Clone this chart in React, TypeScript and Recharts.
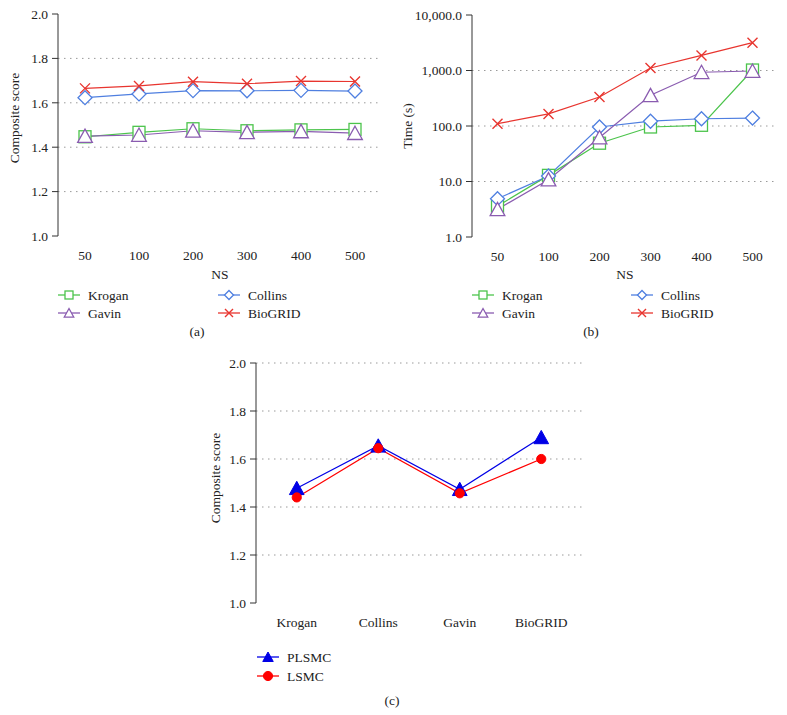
import React from 'react';
import { LineChart, Line, XAxis, YAxis, ReferenceLine } from 'recharts';

// ---------- data ----------
const nsLabels = ['50', '100', '200', '300', '400', '500'];

const scoreKrogan = [1.447, 1.467, 1.483, 1.474, 1.478, 1.48];
const scoreGavin = [1.45, 1.455, 1.474, 1.467, 1.471, 1.463];
const scoreCollins = [1.623, 1.64, 1.655, 1.654, 1.656, 1.653];
const scoreBioGRID = [1.665, 1.676, 1.695, 1.686, 1.698, 1.696];

const timeKrogan = [3.6, 12.9, 49, 96, 103, 1020];
const timeGavin = [3.15, 10.8, 62, 357, 930, 980];
const timeCollins = [4.9, 12.6, 96, 122, 135, 139];
const timeBioGRID = [110, 165, 333, 1110, 1870, 3170];

const networks = ['Krogan', 'Collins', 'Gavin', 'BioGRID'];
const plsmcScores = [1.478, 1.655, 1.474, 1.69];
const lsmcScores = [1.44, 1.645, 1.457, 1.6];

const scoreTicks = [1.0, 1.2, 1.4, 1.6, 1.8, 2.0];
const scoreGridAB = [1.2, 1.4, 1.6, 1.8];
const scoreGridC = [1.2, 1.4, 1.6, 1.8, 2.0];
const timeTicks = [1, 10, 100, 1000, 10000];
const timeGrid = [10, 100, 1000];

// ---------- styling ----------
const FONT = '"Liberation Serif", "Times New Roman", Tinos, serif';
const TXT = '#222';
const AXIS = '#333';
const GRID = '#9a9a9a';
const C_KROGAN = '#4cc44c';
const C_GAVIN = '#8a5cb0';
const C_COLLINS = '#4f7fe0';
const C_BIOGRID = '#e8352f';
const C_PLSMC = '#0000e6';
const C_LSMC = '#ff0000';

type ShapeFn = (cx: number, cy: number, c: string, s: number) => React.ReactElement;

const square: ShapeFn = (cx, cy, c, s) => (
  <rect x={cx - s} y={cy - s} width={2 * s} height={2 * s} fill="#fff" stroke={c} strokeWidth={1.3} />
);
const diamond: ShapeFn = (cx, cy, c, s) => (
  <polygon points={`${cx},${cy - s} ${cx + s},${cy} ${cx},${cy + s} ${cx - s},${cy}`} fill="#fff" stroke={c} strokeWidth={1.3} />
);
const triangle: ShapeFn = (cx, cy, c, s) => (
  <polygon points={`${cx},${cy - s} ${cx + s * 1.05},${cy + s * 0.9} ${cx - s * 1.05},${cy + s * 0.9}`} fill="#fff" stroke={c} strokeWidth={1.3} />
);
const cross: ShapeFn = (cx, cy, c, s) => (
  <path d={`M${cx - s},${cy - s}L${cx + s},${cy + s}M${cx - s},${cy + s}L${cx + s},${cy - s}`} stroke={c} strokeWidth={1.4} fill="none" />
);
const solidTriangle: ShapeFn = (cx, cy, c, s) => (
  <polygon points={`${cx},${cy - s} ${cx + s * 1.05},${cy + s * 0.9} ${cx - s * 1.05},${cy + s * 0.9}`} fill={c} stroke={c} strokeWidth={1} />
);
const solidCircle: ShapeFn = (cx, cy, c, s) => <circle cx={cx} cy={cy} r={s} fill={c} stroke={c} strokeWidth={1} />;

const dotOf = (shape: ShapeFn, color: string, size: number) => (p: any) => {
  const key = `dot-${p.index}`;
  if (p.cx == null || p.cy == null) return <g key={key} />;
  return <g key={key}>{shape(p.cx, p.cy, color, size)}</g>;
};

// ---------- table builders ----------
const dataA = nsLabels.map((ns, i) => ({
  ns,
  Krogan: scoreKrogan[i],
  Gavin: scoreGavin[i],
  Collins: scoreCollins[i],
  BioGRID: scoreBioGRID[i],
}));
const dataB = nsLabels.map((ns, i) => ({
  ns,
  Krogan: timeKrogan[i],
  Gavin: timeGavin[i],
  Collins: timeCollins[i],
  BioGRID: timeBioGRID[i],
}));
const dataC = networks.map((net, i) => ({ net, PLSMC: plsmcScores[i], LSMC: lsmcScores[i] }));

type Series = { name: string; color: string; shape: ShapeFn; size: number; legendSize: number };
const seriesAB: Series[] = [
  { name: 'Krogan', color: C_KROGAN, shape: square, size: 6, legendSize: 4 },
  { name: 'Collins', color: C_COLLINS, shape: diamond, size: 7, legendSize: 4.5 },
  { name: 'Gavin', color: C_GAVIN, shape: triangle, size: 7, legendSize: 4.5 },
  { name: 'BioGRID', color: C_BIOGRID, shape: cross, size: 5, legendSize: 4 },
];
const seriesC: Series[] = [
  { name: 'PLSMC', color: C_PLSMC, shape: solidTriangle, size: 7, legendSize: 5 },
  { name: 'LSMC', color: C_LSMC, shape: solidCircle, size: 4.6, legendSize: 4.6 },
];

const tickStyle = { fontSize: 13.5, fill: TXT, fontFamily: FONT };
const labelStyle = { fontSize: 13.5, fill: TXT, fontFamily: FONT };
const fmt1 = (v: number) => v.toFixed(1);
const fmtTime = (v: number) =>
  v.toLocaleString('en-US', { minimumFractionDigits: 1, maximumFractionDigits: 1 });

// ---------- legend ----------
const LegendBox = ({
  series,
  left,
  top,
  colX,
  rowY,
  cols,
  width,
  height,
}: {
  series: Series[];
  left: number;
  top: number;
  colX: number[];
  rowY: number[];
  cols: number;
  width: number;
  height: number;
}) => (
  <svg style={{ position: 'absolute', left, top }} width={width} height={height}>
    {series.map((s, i) => {
      const x = colX[i % cols];
      const y = rowY[Math.floor(i / cols)];
      return (
        <g key={s.name}>
          <line x1={x} x2={x + 22} y1={y} y2={y} stroke={s.color} strokeWidth={1.3} />
          {s.shape(x + 11, y, s.color, s.legendSize)}
          <text x={x + 30} y={y + 4.5} fontSize={13.5} fill={TXT} style={{ fontFamily: FONT }}>
            {s.name}
          </text>
        </g>
      );
    })}
  </svg>
);

const Caption = ({ text, x, y }: { text: string; x: number; y: number }) => (
  <div
    style={{
      position: 'absolute',
      left: x - 20,
      top: y - 9,
      width: 40,
      textAlign: 'center',
      fontSize: 13.5,
      lineHeight: '18px',
      fontFamily: FONT,
      color: TXT,
    }}
  >
    {text}
  </div>
);

const drawOrderAB = ['Krogan', 'Collins', 'Gavin', 'BioGRID'];

export default function App() {
  return (
    <div
      style={{
        position: 'absolute',
        left: 0,
        top: 0,
        width: 787,
        height: 715,
        background: '#fff',
        fontFamily: FONT,
        overflow: 'hidden',
      }}
    >
      {/* (a) */}
      <div style={{ position: 'absolute', left: 0, top: 0, fontFamily: FONT }}>
        <LineChart width={400} height={290} data={dataA} margin={{ top: 14, right: 18, bottom: 0, left: 0 }} style={{ fontFamily: FONT }}>
          <XAxis
            xAxisId={0}
            type="number"
            domain={[0, nsLabels.length]}
            ticks={nsLabels.map((_, i) => i).concat([nsLabels.length])}
            tick={false}
            tickSize={5}
            height={0}
            allowDataOverflow
            stroke={AXIS}
          />
          <XAxis
            xAxisId={1}
            dataKey="ns"
            type="category"
            scale="band"
            axisLine={false}
            tickLine={false}
            tickMargin={8}
            height={54}
            tick={tickStyle}
            label={{ value: 'NS', position: 'insideBottom', offset: 11, style: labelStyle }}
          />
          <YAxis
            type="number"
            domain={[1, 2]}
            ticks={scoreTicks}
            tickFormatter={fmt1}
            width={58}
            tickSize={6}
            tickMargin={4}
            stroke={AXIS}
            tick={tickStyle}
            allowDataOverflow
            label={{
              value: 'Composite score',
              angle: -90,
              position: 'insideLeft',
              offset: 14,
              dy: -7,
              style: { ...labelStyle, textAnchor: 'middle' },
            }}
          />
          {scoreGridAB.map((v) => (
            <ReferenceLine key={v} y={v} xAxisId={0} stroke={GRID} strokeDasharray="1.5 4.5" />
          ))}
          {drawOrderAB.map((n) => {
            const s = seriesAB.find((x) => x.name === n)!;
            return (
              <Line
                key={n}
                xAxisId={1}
                dataKey={n}
                type="linear"
                stroke={s.color}
                strokeWidth={1.2}
                dot={dotOf(s.shape, s.color, s.size)}
                activeDot={false}
                isAnimationActive={false}
              />
            );
          })}
        </LineChart>
      </div>

      {/* (b) */}
      <div style={{ position: 'absolute', left: 390, top: 0, fontFamily: FONT }}>
        <LineChart width={397} height={291} data={dataB} margin={{ top: 15, right: 9, bottom: 0, left: 0 }} style={{ fontFamily: FONT }}>
          <XAxis
            xAxisId={0}
            type="number"
            domain={[0, nsLabels.length]}
            ticks={nsLabels.map((_, i) => i).concat([nsLabels.length])}
            tick={false}
            tickSize={5}
            height={0}
            allowDataOverflow
            stroke={AXIS}
          />
          <XAxis
            xAxisId={1}
            dataKey="ns"
            type="category"
            scale="band"
            axisLine={false}
            tickLine={false}
            tickMargin={8}
            height={54}
            tick={tickStyle}
            label={{ value: 'NS', position: 'insideBottom', offset: 12, style: labelStyle }}
          />
          <YAxis
            type="number"
            scale="log"
            domain={[1, 10000]}
            ticks={timeTicks}
            tickFormatter={fmtTime}
            width={82}
            tickSize={6}
            tickMargin={4}
            stroke={AXIS}
            tick={tickStyle}
            allowDataOverflow
            label={{
              value: 'Time (s)',
              angle: -90,
              position: 'insideLeft',
              offset: 17,
              style: { ...labelStyle, textAnchor: 'middle' },
            }}
          />
          {timeGrid.map((v) => (
            <ReferenceLine key={v} y={v} xAxisId={0} stroke={GRID} strokeDasharray="1.5 4.5" />
          ))}
          {drawOrderAB.map((n) => {
            const s = seriesAB.find((x) => x.name === n)!;
            return (
              <Line
                key={n}
                xAxisId={1}
                dataKey={n}
                type="linear"
                stroke={s.color}
                strokeWidth={1.2}
                dot={dotOf(s.shape, s.color, s.size)}
                activeDot={false}
                isAnimationActive={false}
              />
            );
          })}
        </LineChart>
      </div>

      {/* legends (a), (b) */}
      <LegendBox series={seriesAB} left={0} top={280} colX={[58, 218]} rowY={[15, 33]} cols={2} width={390} height={45} />
      <LegendBox series={seriesAB} left={390} top={280} colX={[82, 241]} rowY={[15, 33]} cols={2} width={397} height={45} />
      <Caption text="(a)" x={197} y={332} />
      <Caption text="(b)" x={591} y={332} />

      {/* (c) */}
      <div style={{ position: 'absolute', left: 180, top: 330, fontFamily: FONT }}>
        <LineChart width={420} height={305} data={dataC} margin={{ top: 33, right: 18, bottom: 0, left: 0 }} style={{ fontFamily: FONT }}>
          <XAxis
            xAxisId={0}
            type="number"
            domain={[0, networks.length]}
            ticks={networks.map((_, i) => i).concat([networks.length])}
            tick={false}
            tickSize={5}
            height={0}
            allowDataOverflow
            stroke={AXIS}
          />
          <XAxis
            xAxisId={1}
            dataKey="net"
            type="category"
            scale="band"
            axisLine={false}
            tickLine={false}
            tickMargin={8}
            height={32}
            tick={tickStyle}
          />
          <YAxis
            type="number"
            domain={[1, 2]}
            ticks={scoreTicks}
            tickFormatter={fmt1}
            width={76}
            tickSize={6}
            tickMargin={4}
            stroke={AXIS}
            tick={tickStyle}
            allowDataOverflow
            label={{
              value: 'Composite score',
              angle: -90,
              position: 'insideLeft',
              offset: 35,
              dy: -5,
              style: { ...labelStyle, textAnchor: 'middle' },
            }}
          />
          {scoreGridC.map((v) => (
            <ReferenceLine key={v} y={v} xAxisId={0} stroke={GRID} strokeDasharray="1.5 4.5" />
          ))}
          {seriesC.map((s) => (
            <Line
              key={s.name}
              xAxisId={1}
              dataKey={s.name}
              type="linear"
              stroke={s.color}
              strokeWidth={1.2}
              dot={dotOf(s.shape, s.color, s.size)}
              activeDot={false}
              isAnimationActive={false}
            />
          ))}
        </LineChart>
      </div>
      <LegendBox series={seriesC} left={180} top={640} colX={[77]} rowY={[17, 36]} cols={1} width={200} height={50} />
      <Caption text="(c)" x={392} y={701} />
    </div>
  );
}
